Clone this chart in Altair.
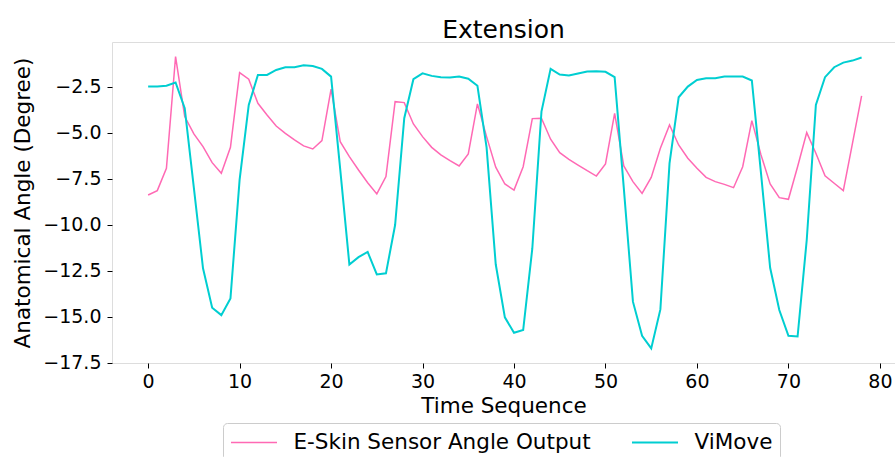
import altair as alt
import pandas as pd

time_seq = list(range(79))

eskin = [
    -8.39, -8.15, -6.94, -0.87, -4.13, -5.07, -5.76, -6.63, -7.21, -5.80,
    -1.74, -2.10, -3.41, -4.04, -4.64, -5.04, -5.40, -5.72, -5.89, -5.43,
    -2.64, -5.49, -6.30, -7.03, -7.72, -8.33, -7.39, -3.32, -3.37, -4.53,
    -5.22, -5.80, -6.21, -6.52, -6.81, -6.16, -3.44, -5.22, -6.88, -7.79,
    -8.12, -6.85, -4.24, -4.22, -5.36, -6.09, -6.45, -6.76, -7.07, -7.36,
    -6.70, -3.95, -6.81, -7.66, -8.30, -7.43, -5.85, -4.58, -5.67, -6.39,
    -6.94, -7.43, -7.66, -7.81, -7.99, -6.85, -4.35, -6.21, -7.79, -8.53,
    -8.62, -6.85, -5.00, -6.12, -7.34, -7.75, -8.15, -5.58, -3.01,
]

vimove = [
    -2.50, -2.50, -2.45, -2.28, -3.67, -8.00, -12.37, -14.51, -14.91, -14.00,
    -7.57, -3.50, -1.87, -1.87, -1.60, -1.45, -1.45, -1.34, -1.38, -1.54,
    -1.96, -7.00, -12.16, -11.76, -11.48, -12.70, -12.64, -10.02, -4.22, -2.10,
    -1.78, -1.92, -1.99, -2.01, -1.96, -2.07, -2.46, -5.80, -12.15, -15.03,
    -15.87, -15.72, -11.29, -3.86, -1.54, -1.85, -1.90, -1.79, -1.68, -1.67,
    -1.70, -1.99, -8.00, -14.18, -16.03, -16.72, -14.60, -6.67, -3.08, -2.50,
    -2.14, -2.05, -2.05, -1.96, -1.96, -1.96, -2.17, -7.20, -12.34, -14.63,
    -16.03, -16.07, -10.83, -3.50, -1.99, -1.45, -1.20, -1.09, -0.92,
]

series_names = ["E-Skin Sensor Angle Output", "ViMove"]
series_colors = ["#ff69b4", "#00ced1"]
series_widths = [1.5, 2.0]

x_ticks = [0, 10, 20, 30, 40, 50, 60, 70, 80]
y_ticks = [-2.5, -5.0, -7.5, -10.0, -12.5, -15.0, -17.5]

df = pd.DataFrame({
    "t": time_seq + time_seq,
    "angle": eskin + vimove,
    "series": [series_names[0]] * len(eskin) + [series_names[1]] * len(vimove),
})

FONT = "DejaVu Sans"

chart = alt.Chart(df).mark_line().encode(
    x=alt.X(
        "t:Q",
        scale=alt.Scale(domain=[-3.95, 81.65], nice=False, zero=False),
        axis=alt.Axis(
            values=x_ticks, title="Time Sequence", grid=False, domain=False,
            tickSize=5, tickColor="#000", labelFontSize=19, labelColor="#000",
            labelFont=FONT, labelPadding=4, labelFlush=False,
            titleFont=FONT, titleFontSize=21.5, titleFontWeight="normal",
            titleColor="#000", titleY=49, titleBaseline="alphabetic",
        ),
    ),
    y=alt.Y(
        "angle:Q",
        scale=alt.Scale(domain=[-17.51, -0.08], nice=False, zero=False),
        axis=alt.Axis(
            values=y_ticks, format=".1f",
            labelExpr="replace(datum.label, '-', '\u2212')",
            title="Anatomical Angle (Degree)", grid=False, domain=False,
            tickSize=5, tickColor="#000", labelFontSize=19, labelColor="#000",
            labelFont=FONT, labelPadding=6, labelFlush=False,
            titleFont=FONT, titleFontSize=21.5, titleFontWeight="normal",
            titleColor="#000", titleX=-83, titleY=160.5, titleAngle=270,
            titleAlign="center", titleBaseline="alphabetic",
        ),
    ),
    color=alt.Color(
        "series:N",
        scale=alt.Scale(domain=series_names, range=series_colors),
        legend=alt.Legend(
            title=None, orient="none", legendX=111, legendY=381,
            direction="horizontal", symbolType="M-2,0H2", symbolSize=529,
            symbolStrokeWidth=1.6, symbolOffset=11.5,
            labelFont=FONT, labelFontSize=21.5,
            labelColor="#000", labelOffset=27, labelLimit=500,
            columnPadding=37, padding=7, strokeColor="#cccccc",
            cornerRadius=4, fillColor="#ffffff",
        ),
    ),
    strokeWidth=alt.StrokeWidth(
        "series:N",
        scale=alt.Scale(domain=series_names, range=series_widths),
        legend=None,
    ),
).properties(
    width=783,
    height=321,
    padding={"left": 112, "top": 42, "right": 0, "bottom": 94},
    autosize=alt.AutoSizeParams(type="none"),
    title=alt.Title(
        "Extension", font=FONT, fontSize=25, fontWeight="normal",
        color="#000", anchor="middle", baseline="alphabetic", offset=5, dy=26,
    ),
).configure_view(
    stroke="#222", strokeWidth=1
).configure(background="white")

chart.save("out.html", embed_options={"renderer": "svg", "actions": False})
